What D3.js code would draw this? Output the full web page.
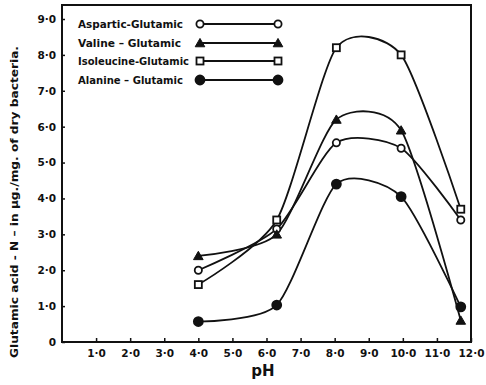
<!DOCTYPE html>
<html>
<head>
<meta charset="utf-8">
<script src="https://cdn.jsdelivr.net/npm/d3@7"></script>
<style>
  body { margin: 0; background: #fff; }
  svg { display: block; font-family: "DejaVu Sans", sans-serif; font-weight: bold; }
</style>
</head>
<body>
<svg id="chart" width="486" height="385"></svg>
<script>
// ── Data ──────────────────────────────────────────────────────────────────────
const pH         = [4.0, 6.3, 8.05, 9.95, 11.7];
const aspartic   = [2.0, 3.15, 5.55, 5.4, 3.4];
const valine     = [2.4, 3.0, 6.2, 5.9, 0.6];
const isoleucine = [1.6, 3.4, 8.2, 8.0, 3.7];
const alanine    = [0.57, 1.03, 4.4, 4.05, 0.98];

const seriesNames = ['Aspartic-Glutamic', 'Valine \u2013 Glutamic', 'Isoleucine-Glutamic', 'Alanine \u2013 Glutamic'];
const seriesSyms  = ['circle', 'triangle', 'square', 'dot'];
const xTicks = [1, 2, 3, 4, 5, 6, 7, 8, 9, 10, 11, 12];
const yTicks = [0, 1, 2, 3, 4, 5, 6, 7, 8, 9];

const series = [aspartic, valine, isoleucine, alanine].map((vals, i) => ({
  name: seriesNames[i], sym: seriesSyms[i],
  pts: vals.map((v, j) => ({ x: pH[j], y: v }))
}));

// ── Scales ────────────────────────────────────────────────────────────────────
const svg = d3.select('#chart');
const x = d3.scaleLinear().domain([0, 12]).range([62, 471]);
const y = d3.scaleLinear().domain([0, 9]).range([342, 19]);
const fmt = v => v === 0 ? '0' : d3.format('.1f')(v).replace('.', '\u00b7');

// plot frame
svg.append('rect')
  .attr('x', 62).attr('y', 5).attr('width', 409).attr('height', 337)
  .attr('fill', 'none').attr('stroke', '#111').attr('stroke-width', 2);

// ── Axes ──────────────────────────────────────────────────────────────────────
const xAxis = svg.append('g').attr('transform', 'translate(0,342)')
  .call(d3.axisBottom(x).tickValues(xTicks).tickSize(-4).tickPadding(8).tickFormat(fmt));
const yAxis = svg.append('g').attr('transform', 'translate(62,0)')
  .call(d3.axisLeft(y).tickValues(yTicks).tickSize(4).tickPadding(2).tickFormat(fmt));
[xAxis, yAxis].forEach(a => {
  a.select('.domain').remove();
  a.selectAll('line').attr('stroke', '#111').attr('stroke-width', 1.5);
  a.selectAll('text').attr('fill', '#111').attr('font-size', 10.5)
    .attr('font-weight', 'bold').attr('font-family', '"DejaVu Sans", sans-serif');
});
yAxis.selectAll('line').attr('x2', 3);

svg.append('text').attr('x', 263).attr('y', 376).attr('text-anchor', 'middle')
  .attr('font-size', 15).attr('fill', '#111').text('pH');

svg.append('text')
  .attr('transform', 'translate(18,202) rotate(-90)')
  .attr('text-anchor', 'middle').attr('font-size', 10.5).attr('fill', '#111')
  .attr('textLength', 312).attr('lengthAdjust', 'spacingAndGlyphs')
  .text('Glutamic acid - N \u2013 in \u00b5g./mg. of dry bacteria.');

// ── Markers ───────────────────────────────────────────────────────────────────
function marker(g, sym, cx, cy) {
  if (sym === 'circle' || sym === 'dot') {
    g.append('circle').attr('cx', cx).attr('cy', cy).attr('r', sym === 'dot' ? 4.5 : 3.6)
      .attr('fill', sym === 'dot' ? '#111' : '#fff').attr('stroke', '#111').attr('stroke-width', 1.8);
  } else if (sym === 'square') {
    g.append('rect').attr('x', cx - 3.5).attr('y', cy - 3.5).attr('width', 7).attr('height', 7)
      .attr('fill', '#fff').attr('stroke', '#111').attr('stroke-width', 1.8);
  } else {
    g.append('path').attr('d', d3.symbol(d3.symbolTriangle, 40)())
      .attr('transform', `translate(${cx},${cy + 1})`)
      .attr('fill', '#111').attr('stroke', '#111').attr('stroke-width', 1);
  }
}

// ── Curves ────────────────────────────────────────────────────────────────────
const line = d3.line().x(d => x(d.x)).y(d => y(d.y)).curve(d3.curveCardinal.tension(0.3));
const plot = svg.append('g');
series.forEach(s => {
  plot.append('path').attr('d', line(s.pts))
    .attr('fill', 'none').attr('stroke', '#111').attr('stroke-width', 1.8);
});
series.forEach(s => s.pts.forEach(p => marker(plot, s.sym, x(p.x), y(p.y))));

// ── Legend ────────────────────────────────────────────────────────────────────
const legY = [24, 43, 61, 80];
const legW = [105, 103, 111, 105];   // printed label widths
series.forEach((s, i) => {
  const g = svg.append('g');
  g.append('text').attr('x', 78).attr('y', legY[i] + 4).attr('font-size', 10.5)
    .attr('fill', '#111').attr('textLength', legW[i]).attr('lengthAdjust', 'spacingAndGlyphs')
    .text(s.name);
  g.append('line').attr('x1', 200).attr('x2', 278).attr('y1', legY[i]).attr('y2', legY[i])
    .attr('stroke', '#111').attr('stroke-width', 1.8);
  marker(g, s.sym, 200, legY[i]);
  marker(g, s.sym, 278, legY[i]);
});
</script>
</body>
</html>
